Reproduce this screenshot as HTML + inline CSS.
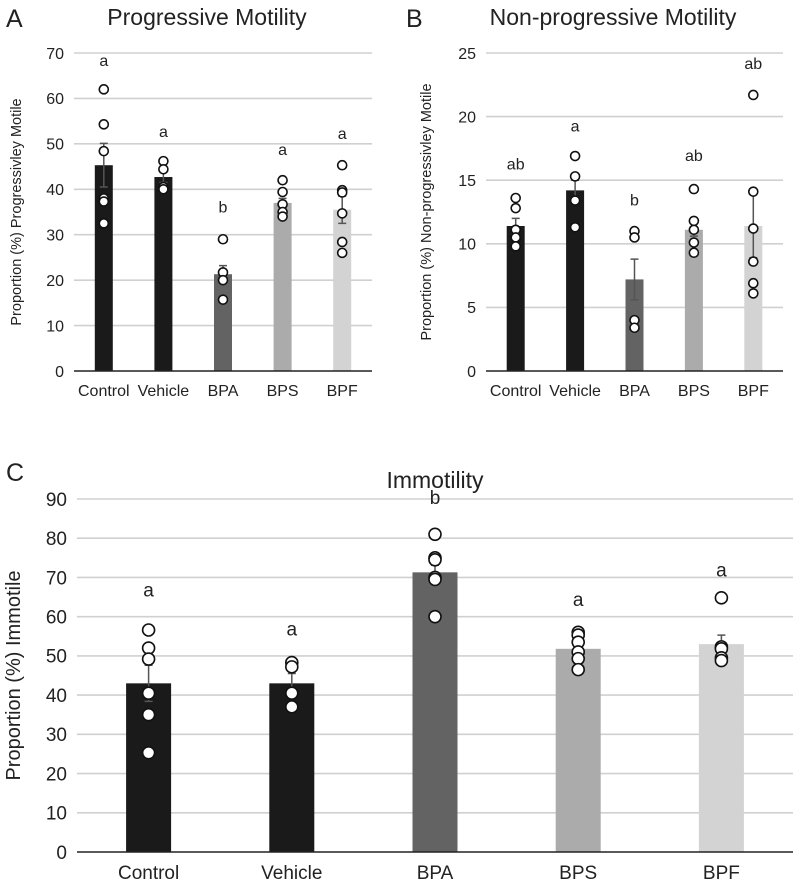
<!DOCTYPE html>
<html><head><meta charset="utf-8"><style>
body{margin:0;background:#fff;}
svg text{font-family:"Liberation Sans",sans-serif;fill:#222;}
</style></head><body>
<svg id="fig" width="793" height="886" xmlns="http://www.w3.org/2000/svg">
<text x="6" y="27" font-size="25">A</text>
<text x="207" y="25" font-size="23" text-anchor="middle">Progressive Motility</text>
<text x="406" y="27" font-size="25">B</text>
<text x="613" y="25" font-size="23" text-anchor="middle">Non-progressive Motility</text>
<text x="6" y="481" font-size="25">C</text>
<text x="435" y="488" font-size="23" text-anchor="middle">Immotility</text>
</svg>
<script>
const categories=["Control","Vehicle","BPA","BPS","BPF"];
const colors=["#1a1a1a","#1a1a1a","#636363","#ababab","#d3d3d3"];
const aMeans=[45.3,42.7,21.3,37,35.5];
const aErr=[4.8,1.2,1.9,1.0,3.0];
const aPoints=[[62,54.3,48.4,38,37.3,32.5],[46.2,44.4,40.5,40],[29,21.7,20,15.7],[42,39.4,36.7,35,34],[45.3,39.8,39.3,34.7,28.4,26]];
const aLetters=["a","a","b","a","a"];
const aLetterY=[68.2,52.6,36,48.6,52.1];
const aTicks=[0,10,20,30,40,50,60,70];
const bMeans=[11.4,14.2,7.2,11.1,11.4];
const bErr=[0.6,0.8,1.6,0.5,2.5];
const bPoints=[[13.6,12.8,11.1,10.5,9.8],[16.9,15.3,13.4,11.3],[11,10.5,4,3.4],[14.3,11.8,11.1,10.1,9.3],[21.7,14.1,11.2,8.6,6.9,6.1]];
const bLetters=["ab","a","b","ab","ab"];
const bLetterY=[16.2,19.2,13.4,16.9,24.1];
const bTicks=[0,5,10,15,20,25];
const cMeans=[43,43,71.3,51.8,53];
const cErr=[4.6,2.5,1.8,1.7,2.3];
const cPoints=[[56.6,52,49.2,40.5,35,25.3],[48.3,47.2,40.5,37],[81,75,74.5,70,69.5,60],[56,55.3,53.5,51,49.3,46.5],[64.8,52.3,51.8,49.5,48.8]];
const cLetters=["a","a","b","a","a"];
const cLetterY=[66.6,56.7,90.2,64.2,71.7];
const cTicks=[0,10,20,30,40,50,60,70,80,90];

const svg=document.getElementById('fig');
const NS="http://www.w3.org/2000/svg";
function mk(tag,attrs){const e=document.createElementNS(NS,tag);for(const k in attrs)e.setAttribute(k,attrs[k]);svg.appendChild(e);return e;}

function panel(p,means,err,points,letters,letterY,ticks,cfg){
  const yMax=ticks[ticks.length-1];
  const y=v=>cfg.y0-(v/yMax)*(cfg.y0-cfg.yTop);
  const step=(cfg.x1-cfg.x0)/categories.length;
  const x=i=>cfg.x0+step*(i+0.5);
  ticks.forEach(t=>{
    if(t>0){const g=mk('line',{x1:cfg.x0,x2:cfg.x1,y1:y(t),y2:y(t),stroke:'#d0d0d0','stroke-width':1.6});
    
    }
    const tl=mk('text',{x:cfg.x0-10,y:y(t)+cfg.fs*0.36,'font-size':cfg.fs,'text-anchor':'end'});tl.textContent=t;
    
    
  });
  means.forEach((m,i)=>{
    const b=mk('rect',{x:x(i)-cfg.bw/2,y:y(m),width:cfg.bw,height:y(0)-y(m),fill:colors[i]});
    
    
    const e=mk('path',{d:`M${x(i)},${y(m-err[i])}V${y(m+err[i])}M${x(i)-4},${y(m+err[i])}H${x(i)+4}M${x(i)-4},${y(m-err[i])}H${x(i)+4}`,stroke:'#555','stroke-width':1.5,fill:'none'});
    
    
    points[i].forEach(v=>{
      const c=mk('circle',{cx:x(i),cy:y(v),r:cfg.r,fill:'#fff',stroke:'#111','stroke-width':1.6});
      
      
    });
    const l=mk('text',{x:x(i),y:y(letterY[i])+cfg.fs*0.3,'font-size':cfg.fs,'text-anchor':'middle'});l.textContent=letters[i];
    
    
    const cl=mk('text',{x:x(i),y:cfg.labY,'font-size':cfg.fs,'text-anchor':'middle'});cl.textContent=categories[i];
    
    
  });
  const ax=mk('line',{x1:cfg.x0,x2:cfg.x1,y1:y(0),y2:y(0),stroke:'#222','stroke-width':1.6});
  
  
  const yt=mk('text',{x:0,y:0,'font-size':cfg.yfs,'text-anchor':'middle',transform:`translate(${cfg.ytx},${(cfg.y0+cfg.yTop)/2}) rotate(-90)`});yt.textContent=cfg.ytitle;
  
  
}
panel('a',aMeans,aErr,aPoints,aLetters,aLetterY,aTicks,{x0:74,x1:372,y0:371,yTop:53,bw:18,r:4.5,fs:16,labY:396,yfs:14.5,ytx:21,ytitle:"Proportion (%) Progressivley Motile"});
panel('b',bMeans,bErr,bPoints,bLetters,bLetterY,bTicks,{x0:486,x1:783,y0:371,yTop:53,bw:18,r:4.5,fs:16,labY:396,yfs:14.5,ytx:431,ytitle:"Proportion (%) Non-progressivley Motile"});
panel('c',cMeans,cErr,cPoints,cLetters,cLetterY,cTicks,{x0:77,x1:793,y0:852,yTop:499,bw:45,r:6,fs:19,labY:879,yfs:20,ytx:20,ytitle:"Proportion (%) Immotile"});
</script>
</body></html>
